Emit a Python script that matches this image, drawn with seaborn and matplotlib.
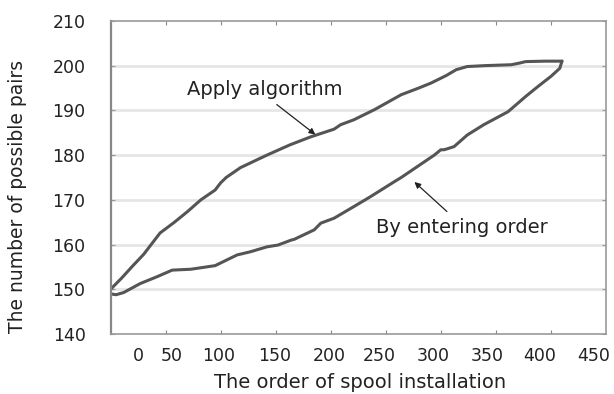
import pandas as pd
import matplotlib
matplotlib.use("Agg")
import matplotlib.pyplot as plt
import seaborn as sns

# Apply algorithm (upper curve)
algo_x = [0, 10, 20, 30, 45, 58, 70, 82, 95, 100, 105, 118, 130, 142, 163,
          182, 203, 209, 221, 240, 264, 280, 291, 305, 314, 324, 340, 364,
          372, 377, 395, 410]
algo_y = [150, 152.5, 155.2, 157.8, 162.6, 165, 167.4, 170, 172.2, 173.8,
          175, 177.2, 178.6, 180, 182.3, 184.1, 185.8, 186.8, 187.9, 190.2,
          193.5, 195, 196.1, 197.8, 199.1, 199.8, 200, 200.2, 200.6, 200.9,
          201, 201]

# By entering order (lower curve)
order_x = [0, 5, 12, 27, 42, 56, 73, 95, 115, 127, 142, 152, 164, 167, 185,
           191, 203, 221, 236, 258, 264, 279, 294, 300, 303, 312, 324, 339,
           361, 377, 388, 400, 408, 410]
order_y = [149, 148.8, 149.3, 151.3, 152.8, 154.3, 154.5, 155.3, 157.7,
           158.4, 159.5, 159.9, 161, 161.2, 163.3, 164.8, 165.9, 168.5, 170.7,
           174.1, 175, 177.5, 180, 181.2, 181.2, 181.9, 184.5, 186.8, 189.7,
           193.1, 195.3, 197.6, 199.4, 201]

y_ticks = [140, 150, 160, 170, 180, 190, 200, 210]
x_tick_marks = [50, 100, 150, 200, 250, 300, 350, 400]
x_label_text = ["0", "50", "100", "150", "200", "250", "300", "350", "400", "450"]
# where the labels actually sit in the picture (they drift from the marks)
x_label_pos = [25, 56, 98, 149, 199, 244, 293, 342, 390, 439]

df = pd.concat([
    pd.DataFrame({"x": algo_x, "y": algo_y, "series": "Apply algorithm"}),
    pd.DataFrame({"x": order_x, "y": order_y, "series": "By entering order"}),
])

sns.set_theme(style="white")
plt.rcParams["font.family"] = ["DejaVu Sans"]

fig = plt.figure(figsize=(6.14, 3.94), dpi=100)
ax = fig.add_axes([0.180, 0.152, 0.807, 0.795])

ax.set_xlim(0, 450)
ax.set_ylim(140, 210)
for v in y_ticks[1:-1]:
    ax.axhline(v, color="#e6e6e6", lw=2, zorder=0)

sns.lineplot(data=df, x="x", y="y", hue="series", estimator=None, sort=False,
             palette=["#555555", "#555555"], lw=2.2, legend=False, ax=ax)

text_color = "#222222"
ax.set_yticks(y_ticks)
ax.tick_params(axis="y", which="major", direction="in", length=3, width=0.8,
               color="#999999", labelsize=12.5, labelcolor=text_color, pad=18,
               left=True, right=True)
ax.set_xticks(x_label_pos)
ax.set_xticklabels(x_label_text)
ax.tick_params(axis="x", which="major", length=0, labelsize=12.5,
               labelcolor=text_color, pad=9)
ax.set_xticks(x_tick_marks, minor=True)
ax.tick_params(axis="x", which="minor", direction="in", length=3, width=0.8,
               color="#888888", bottom=True, top=True)

for side, sp in ax.spines.items():
    sp.set_color("#999999")
    sp.set_linewidth(1.2)
ax.spines["left"].set_color("#888888")
ax.spines["left"].set_linewidth(1.6)

ax.set_xlabel("The order of spool installation", fontsize=14, color=text_color)
ax.set_ylabel("The number of possible pairs", fontsize=13.5, color=text_color)
ax.xaxis.set_label_coords(0.504, -0.125)
ax.yaxis.set_label_coords(-0.168, 0.44)

arrow = dict(arrowstyle="-|>", color="#222222", lw=0.9, mutation_scale=9,
             shrinkA=0, shrinkB=0)
ax.text(140, 194.6, "Apply algorithm", ha="center", va="center",
        fontsize=14, color=text_color)
ax.annotate("", xy=(186, 184.6), xytext=(151, 191.3), arrowprops=arrow)
ax.text(319, 163.9, "By entering order", ha="center", va="center",
        fontsize=14, color=text_color)
ax.annotate("", xy=(276, 174), xytext=(305.5, 167.4), arrowprops=arrow)

fig.savefig("out.png", dpi=100)
